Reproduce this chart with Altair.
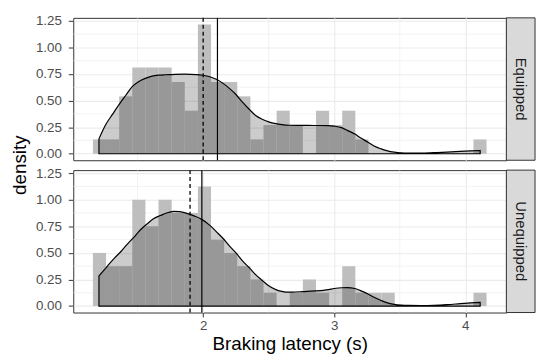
import altair as alt
import pandas as pd

# ---------------- data ----------------
bin_start = 1.159
bin_width = 0.1001
equipped_counts = [1, 1, 4, 6, 6, 6, 5, 3, 9, 5, 5, 4, 1, 2, 3, 2, 0, 3, 2, 3, 1, 0, 0, 0, 0, 0, 0, 0, 0, 1]
unequipped_counts = [4, 3, 3, 8, 6, 8, 7, 7, 9, 5, 4, 3, 2, 1, 0, 1, 2, 1, 0, 3, 1, 1, 1, 0, 0, 0, 0, 0, 0, 1]
n_equipped = 74
n_unequipped = 80

equipped_dens_x = [1.205, 1.258, 1.308, 1.358, 1.41, 1.459, 1.51, 1.559, 1.61, 1.659, 1.71, 1.76, 1.86,
                   1.95, 2.0, 2.051, 2.10, 2.152, 2.20, 2.252, 2.30, 2.353, 2.40, 2.454, 2.50, 2.554,
                   2.60, 2.654, 2.755, 2.85, 2.955, 3.0, 3.056, 3.10, 3.157, 3.20, 3.257, 3.30, 3.358,
                   3.40, 3.458, 3.51, 3.56, 3.66, 3.76, 3.86, 3.961, 4.04, 4.113]
equipped_dens_y = [0.14, 0.277, 0.37, 0.462, 0.55, 0.631, 0.68, 0.709, 0.73, 0.739, 0.743, 0.745, 0.748,
                   0.745, 0.738, 0.724, 0.70, 0.662, 0.615, 0.555, 0.485, 0.416, 0.36, 0.323, 0.30, 0.283,
                   0.274, 0.268, 0.267, 0.266, 0.265, 0.26, 0.246, 0.22, 0.185, 0.15, 0.108, 0.075, 0.046,
                   0.03, 0.015, 0.008, 0.006, 0.006, 0.01, 0.015, 0.022, 0.027, 0.031]

unequipped_dens_x = [1.205, 1.273, 1.323, 1.373, 1.42, 1.474, 1.52, 1.574, 1.62, 1.674, 1.72, 1.775, 1.82,
                     1.876, 1.93, 1.989, 2.051, 2.10, 2.152, 2.20, 2.252, 2.30, 2.353, 2.40, 2.454, 2.50,
                     2.554, 2.60, 2.654, 2.70, 2.755, 2.855, 2.956, 3.0, 3.056, 3.10, 3.157, 3.20, 3.257,
                     3.30, 3.358, 3.40, 3.458, 3.51, 3.56, 3.66, 3.76, 3.86, 3.961, 4.04, 4.113]
unequipped_dens_y = [0.283, 0.381, 0.45, 0.513, 0.58, 0.651, 0.715, 0.774, 0.82, 0.851, 0.875, 0.89, 0.888,
                     0.872, 0.848, 0.815, 0.759, 0.70, 0.635, 0.565, 0.497, 0.425, 0.359, 0.295, 0.237, 0.19,
                     0.154, 0.138, 0.13, 0.132, 0.135, 0.142, 0.155, 0.165, 0.172, 0.173, 0.165, 0.145, 0.114,
                     0.085, 0.052, 0.032, 0.016, 0.009, 0.006, 0.005, 0.007, 0.013, 0.022, 0.029, 0.034]

equipped_mean, equipped_median = 2.109, 2.0
unequipped_mean, unequipped_median = 1.99, 1.90

panel_labels = ["Equipped", "Unequipped"]
x_ticks = [2, 3, 4]
x_minor = [1.5, 2.5, 3.5]
y_ticks = [0.0, 0.25, 0.5, 0.75, 1.0, 1.25]
y_minor = [0.125, 0.375, 0.625, 0.875, 1.125]
x_domain = [1.009, 4.313]
y_domain = [-0.061, 1.278]

# ---------------- layout ----------------
W = 438
H = 144
FONT = "Liberation Sans"
GRID = "#EBEBEB"
DARK = "#333333"


def panel(label, counts, n, dx, dy, mean, median, bottom, with_ytitle):
    hist = pd.DataFrame({
        "x0": [bin_start + i * bin_width for i in range(len(counts))],
        "x1": [bin_start + (i + 1) * bin_width for i in range(len(counts))],
        "density": [c / (n * bin_width) for c in counts],
    })
    dens = pd.DataFrame({"x": dx, "y": dy})
    xs = alt.Scale(domain=x_domain, nice=False, zero=False)
    ys = alt.Scale(domain=y_domain, nice=False, zero=False)

    if bottom:
        xaxis = alt.Axis(values=x_ticks, format="d", title="Braking latency (s)", grid=True,
                         ticks=True, labels=True, tickSize=4.5, labelPadding=2, titlePadding=2)
    else:
        xaxis = alt.Axis(values=x_ticks, title=None, grid=True, ticks=False, labels=False)
    yaxis = alt.Axis(values=y_ticks, format=".2f", title=None, grid=True, tickSize=5, labelPadding=7)

    minor_x = alt.Chart(pd.DataFrame({"v": x_minor})).mark_rule(color=GRID, strokeWidth=0.6).encode(
        x=alt.X("v:Q", scale=xs, axis=xaxis))
    minor_y = alt.Chart(pd.DataFrame({"v": y_minor})).mark_rule(color=GRID, strokeWidth=0.6).encode(
        y=alt.Y("v:Q", scale=ys, axis=yaxis))

    bars = alt.Chart(hist).mark_rect(color="#BEBEBE").encode(
        x=alt.X("x0:Q", scale=xs, axis=xaxis),
        x2="x1:Q",
        y=alt.Y("density:Q", scale=ys, axis=yaxis),
        y2=alt.datum(0),
    )
    area = alt.Chart(dens).mark_area(fill="black", fillOpacity=0.2, stroke="black", strokeWidth=1.2,
                                     interpolate="monotone").encode(
        x=alt.X("x:Q", scale=xs, axis=xaxis),
        y=alt.Y("y:Q", scale=ys, axis=yaxis),
        y2=alt.datum(0),
    )
    lines = pd.DataFrame({"v": [mean, median], "kind": ["mean", "median"]})
    mean_rule = alt.Chart(lines[lines.kind == "mean"]).mark_rule(color="black", strokeWidth=1.2).encode(
        x=alt.X("v:Q", scale=xs, axis=xaxis))
    median_rule = alt.Chart(lines[lines.kind == "median"]).mark_rule(
        color="black", strokeWidth=1.3, strokeDash=[4, 3]).encode(
        x=alt.X("v:Q", scale=xs, axis=xaxis))

    lab = pd.DataFrame({"label": [label]})
    strip = alt.Chart(lab).mark_rect(fill="#D9D9D9", stroke=DARK, strokeWidth=1).encode(
        x=alt.value(W), x2=alt.value(W + 29), y=alt.value(0), y2=alt.value(H))
    strip_text = alt.Chart(lab).mark_text(angle=90, font=FONT, fontSize=15, color="#1A1A1A",
                                          align="center", baseline="middle").encode(
        x=alt.value(W + 14.5), y=alt.value(H / 2), text="label:N")

    layers = [minor_x, minor_y, bars, area, mean_rule, median_rule, strip, strip_text]
    if with_ytitle:
        yt = alt.Chart(pd.DataFrame({"t": ["density"]})).mark_text(
            angle=270, font=FONT, fontSize=19, color="black", align="center", baseline="middle").encode(
            x=alt.value(-54), y=alt.value(H + 5), text="t:N")
        layers.append(yt)
    return alt.layer(*layers).properties(width=W, height=H)


top = panel(panel_labels[0], equipped_counts, n_equipped, equipped_dens_x, equipped_dens_y,
            equipped_mean, equipped_median, False, True)
bot = panel(panel_labels[1], unequipped_counts, n_unequipped, unequipped_dens_x, unequipped_dens_y,
            unequipped_mean, unequipped_median, True, False)

chart = alt.vconcat(top, bot, spacing=10, bounds="flush").properties(
    padding={"left": 2, "top": 3, "right": 2, "bottom": 0}
).configure_view(
    stroke=DARK, strokeWidth=1
).configure_axis(
    domain=False,
    gridColor=GRID, gridWidth=1.1,
    tickColor=DARK, tickWidth=1,
    labelColor="#4D4D4D", labelFont=FONT, labelFontSize=13.5,
    titleFont=FONT, titleFontSize=19, titleFontWeight="normal", titleColor="black",
)

chart.save("out.html", embed_options={"renderer": "svg", "actions": False})
